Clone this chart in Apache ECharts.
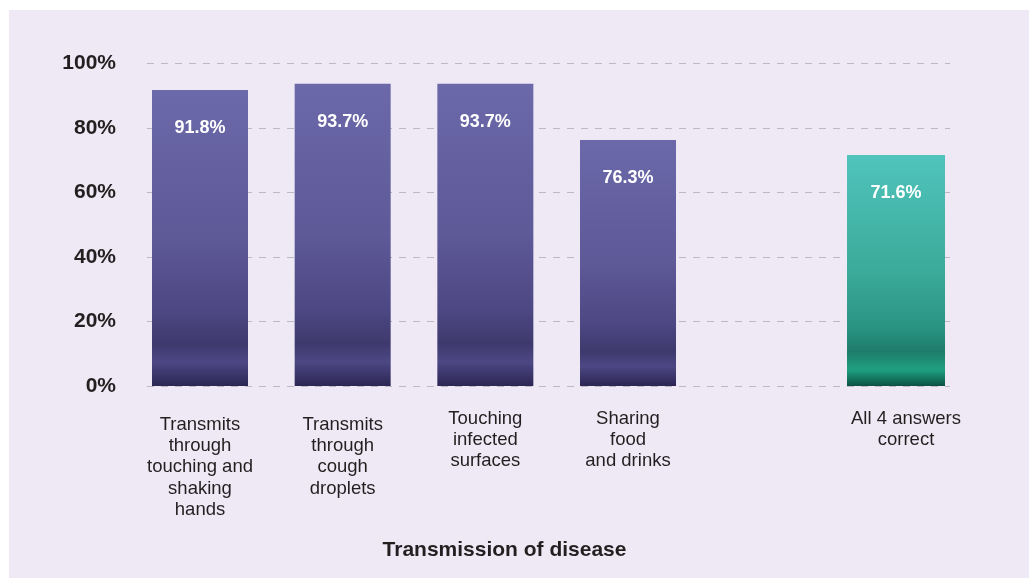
<!DOCTYPE html>
<html>
<head>
<meta charset="utf-8">
<title>Transmission of disease</title>
<script src="https://cdn.jsdelivr.net/npm/echarts@6/dist/echarts.min.js"></script>
<style>
  html, body { margin: 0; padding: 0; background: #ffffff; }
  #chart { width: 1029px; height: 581px; }
</style>
</head>
<body>
<div id="chart"></div>
<script>
// Share of respondents giving the correct answer, by mode of transmission
const categories = [
  'Transmits\nthrough\ntouching and\nshaking\nhands',
  'Transmits\nthrough\ncough\ndroplets',
  'Touching\ninfected\nsurfaces',
  'Sharing\nfood\nand drinks',
  'All 4 answers\ncorrect'
];
const values = [91.8, 93.7, 93.7, 76.3, 71.6];
const yTicks = [0, 20, 40, 60, 80, 100];

const FONT = '"Liberation Sans", Arial, Helvetica, sans-serif';
const INK = '#231f20';

const purple = new echarts.graphic.LinearGradient(0, 0, 0, 1, [
  { offset: 0, color: '#6b69aa' },
  { offset: 0.5, color: '#5e5997' },
  { offset: 0.75, color: '#4d4783' },
  { offset: 0.86, color: '#3e396d' },
  { offset: 0.92, color: '#4d4784' },
  { offset: 1, color: '#2b2653' }
]);
const teal = new echarts.graphic.LinearGradient(0, 0, 0, 1, [
  { offset: 0, color: '#50c3bc' },
  { offset: 0.5, color: '#3bab9a' },
  { offset: 0.75, color: '#2a9382' },
  { offset: 0.85, color: '#1e7c6b' },
  { offset: 0.93, color: '#1ea080' },
  { offset: 1, color: '#0c5244' }
]);

const single = categories.slice(0, 4);
const combined = categories.slice(4);

const valueLabel = {
  show: true,
  position: 'insideTop',
  distance: 29,
  color: '#ffffff',
  fontFamily: FONT,
  fontWeight: 'bold',
  fontSize: 18,
  formatter: p => p.value.toFixed(1) + '%'
};

const catLabel = {
  show: true,
  interval: 0,
  margin: 22,
  color: INK,
  fontFamily: FONT,
  fontSize: 18.5,
  lineHeight: 21.3,
  align: 'center'
};

const hiddenY = {
  type: 'value', min: 0, max: 100, interval: 20,
  show: false, splitLine: { show: false }
};

const chart = echarts.init(document.getElementById('chart'), null, { renderer: 'canvas' });

chart.setOption({
  backgroundColor: '#ffffff',
  animation: false,
  graphic: [{
    type: 'rect',
    z: -100,
    shape: { x: 9, y: 10, width: 1020, height: 568 },
    style: { fill: '#eee9f4' }
  }],
  grid: [
    { left: 147, right: 79, top: 63.5, bottom: 195 },
    { left: 128.67, width: 570.67, top: 63.5, bottom: 195 },
    { left: 824.67, width: 142.67, top: 63.5, bottom: 195 }
  ],
  xAxis: [
    {
      gridIndex: 0, type: 'value', min: 0, max: 1,
      axisLine: { show: false }, axisTick: { show: false },
      axisLabel: { show: false }, splitLine: { show: false },
      name: 'Transmission of disease',
      nameLocation: 'middle',
      nameGap: 154,
      nameTextStyle: {
        color: INK, fontFamily: FONT, fontWeight: 'bold', fontSize: 21,
        padding: [0, 88, 0, 0]
      }
    },
    {
      gridIndex: 1, type: 'category',
      data: single.map((c, i) => i < 2
        ? { value: c, textStyle: { padding: [6, 0, 0, 0] } }
        : c),
      axisLine: { show: false }, axisTick: { show: false },
      axisLabel: catLabel
    },
    {
      gridIndex: 2, type: 'category', data: combined,
      axisLine: { show: false }, axisTick: { show: false },
      axisLabel: Object.assign({}, catLabel, { padding: [0, 0, 0, 20] })
    }
  ],
  yAxis: [
    {
      gridIndex: 0, type: 'value', min: yTicks[0], max: yTicks[yTicks.length - 1], interval: 20,
      axisLine: { show: false }, axisTick: { show: false },
      axisLabel: {
        margin: 31,
        padding: [4, 0, 0, 0],
        color: INK, fontFamily: FONT, fontWeight: 'bold', fontSize: 21,
        formatter: v => v + '%'
      },
      splitLine: { lineStyle: { color: '#bdb8c4', width: 1, type: [7, 7] } }
    },
    Object.assign({ gridIndex: 1 }, hiddenY),
    Object.assign({ gridIndex: 2 }, hiddenY)
  ],
  series: [
    {
      type: 'bar', xAxisIndex: 1, yAxisIndex: 1,
      data: values.slice(0, 4),
      barWidth: 96,
      itemStyle: { color: purple },
      label: valueLabel
    },
    {
      type: 'bar', xAxisIndex: 2, yAxisIndex: 2,
      data: values.slice(4),
      barWidth: 98,
      itemStyle: { color: teal },
      label: valueLabel
    }
  ]
});
</script>
</body>
</html>
